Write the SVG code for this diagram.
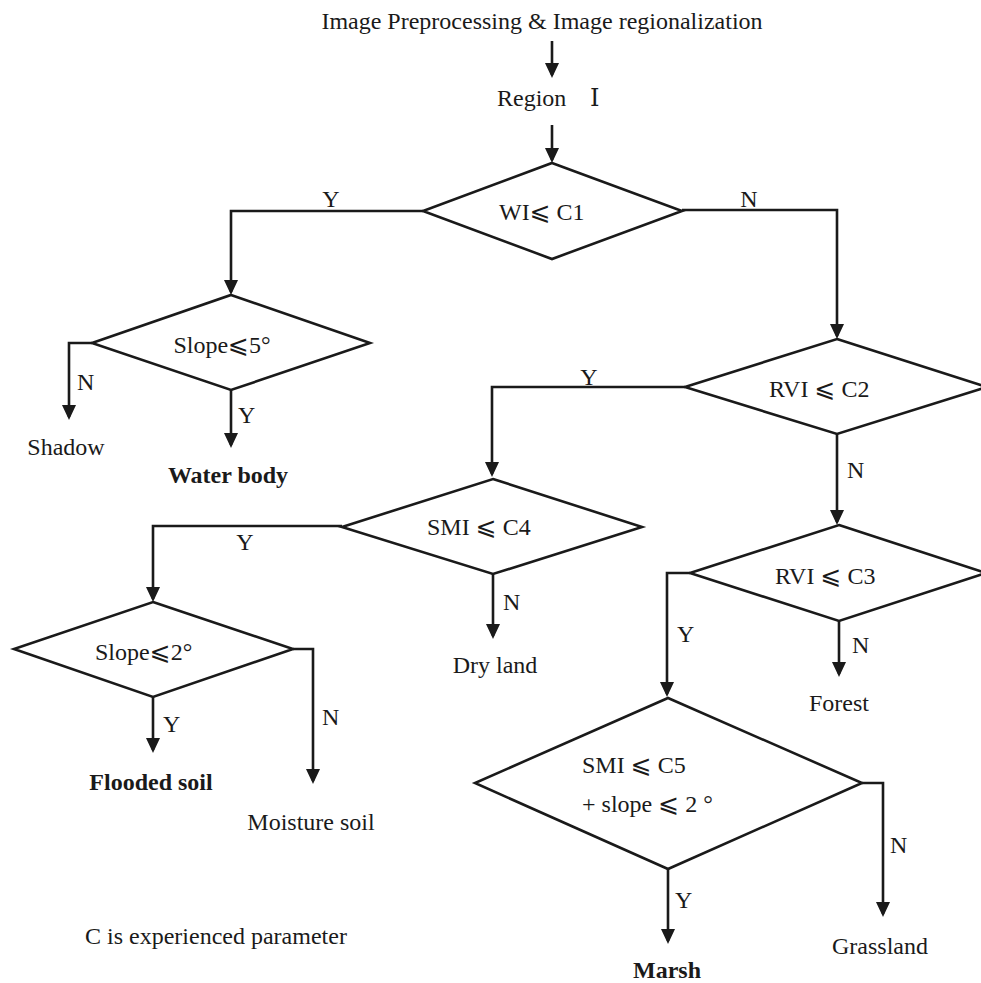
<svg xmlns="http://www.w3.org/2000/svg" width="981" height="983" viewBox="0 0 981 983">
<style>
text{font-family:"Liberation Serif","Times New Roman","DejaVu Serif",serif;font-size:24px;fill:#1a1a1a}
.b{font-weight:bold}
.m{text-anchor:middle}
.d{fill:#fff;stroke:#1a1a1a;stroke-width:2.6;stroke-linejoin:miter}
.c{fill:none;stroke:#1a1a1a;stroke-width:2.6}
.sym{font-family:"DejaVu Serif","DejaVu Sans","Noto Sans CJK SC",serif;font-size:25px}
</style>
<defs>
<marker id="ah" markerUnits="userSpaceOnUse" markerWidth="16" markerHeight="15" refX="12" refY="7" orient="auto">
<path d="M0,0 L15,7 L0,14 z" fill="#1a1a1a"/>
</marker>
</defs>
<rect width="981" height="983" fill="#fff"/>
<g id="connectors">
<path class="c" d="M552,41 V75" marker-end="url(#ah)"/>
<path class="c" d="M552,125 V160" marker-end="url(#ah)"/>
<path class="c" d="M423,211 H231 V292" marker-end="url(#ah)"/>
<path class="c" d="M682,210 H837 V336" marker-end="url(#ah)"/>
<path class="c" d="M92,343 H69 V417" marker-end="url(#ah)"/>
<path class="c" d="M231,390 V445" marker-end="url(#ah)"/>
<path class="c" d="M685,387 H492 V474" marker-end="url(#ah)"/>
<path class="c" d="M837,434 V522" marker-end="url(#ah)"/>
<path class="c" d="M342,526 H153 V599" marker-end="url(#ah)"/>
<path class="c" d="M493,574 V636" marker-end="url(#ah)"/>
<path class="c" d="M293,649 H313 V781" marker-end="url(#ah)"/>
<path class="c" d="M153,697 V750" marker-end="url(#ah)"/>
<path class="c" d="M690,573 H667 V694" marker-end="url(#ah)"/>
<path class="c" d="M839,621 V674" marker-end="url(#ah)"/>
<path class="c" d="M862,783 H883 V914" marker-end="url(#ah)"/>
<path class="c" d="M668,869 V941" marker-end="url(#ah)"/>
<text class="m" x="331" y="207">Y</text>
<text class="m" x="749" y="207">N</text>
<text x="77" y="390">N</text>
<text x="238" y="423">Y</text>
<text class="m" x="589" y="385">Y</text>
<text x="847" y="478">N</text>
<text class="m" x="245" y="550">Y</text>
<text x="503" y="610">N</text>
<text x="322" y="725">N</text>
<text x="163" y="732">Y</text>
<text x="677" y="642">Y</text>
<text x="852" y="653">N</text>
<text x="890" y="853">N</text>
<text x="675" y="908">Y</text>
</g>
<g id="title"><text class="m" x="542" y="29">Image Preprocessing &amp; Image regionalization</text></g>
<g id="region"><text x="497" y="106">Region</text><text x="590" y="106">Ⅰ</text></g>
<g id="d-wi"><polygon class="d" points="552,163 682,211 552,259 423,211"/><text x="499" y="220">WI<tspan class="sym">⩽</tspan> C1</text></g>
<g id="d-slope5"><polygon class="d" points="231,295 370,343 231,390 92,343"/><text class="m" x="222" y="353">Slope<tspan class="sym">⩽</tspan>5°</text></g>
<g id="shadow"><text class="m" x="66" y="455">Shadow</text></g>
<g id="water"><text class="m b" x="228" y="483">Water body</text></g>
<g id="d-rvi2"><polygon class="d" points="837,339 987,387 837,434 685,387"/><text x="769" y="397">RVI  <tspan class="sym">⩽</tspan> C2</text></g>
<g id="d-smi4"><polygon class="d" points="493,479 642,527 493,574 342,527"/><text x="427" y="535">SMI  <tspan class="sym">⩽</tspan> C4</text></g>
<g id="dryland"><text class="m" x="495" y="673">Dry land</text></g>
<g id="d-slope2"><polygon class="d" points="153,602 293,649 153,697 14,649"/><text x="95" y="660">Slope<tspan class="sym">⩽</tspan>2°</text></g>
<g id="flooded"><text class="m b" x="151" y="790">Flooded soil</text></g>
<g id="moisture"><text class="m" x="311" y="830">Moisture soil</text></g>
<g id="d-rvi3"><polygon class="d" points="839,525 986,573 839,621 690,573"/><text x="775" y="584">RVI  <tspan class="sym">⩽</tspan> C3</text></g>
<g id="forest"><text class="m" x="839" y="711">Forest</text></g>
<g id="d-smi5"><polygon class="d" points="668,698 862,783 668,869 475,783"/><text x="582" y="773">SMI  <tspan class="sym">⩽</tspan> C5</text><text x="582" y="812">+ slope   <tspan class="sym">⩽</tspan> 2 °</text></g>
<g id="marsh"><text class="m b" x="667" y="978">Marsh</text></g>
<g id="grassland"><text class="m" x="880" y="954">Grassland</text></g>
<g id="note"><text x="85" y="944">C is experienced parameter</text></g>
</svg>
